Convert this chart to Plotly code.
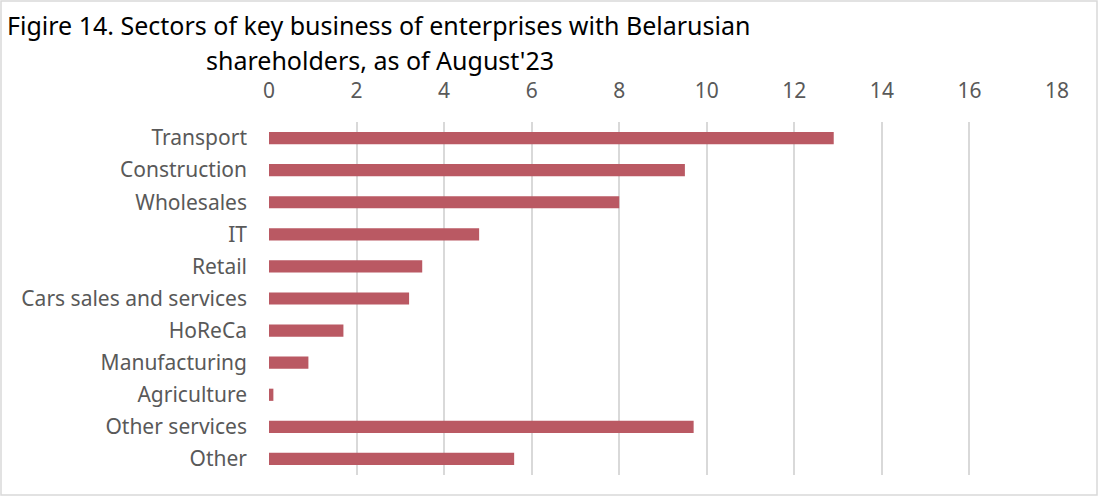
import plotly.graph_objects as go

categories = ["Transport", "Construction", "Wholesales", "IT", "Retail",
              "Cars sales and services", "HoReCa", "Manufacturing",
              "Agriculture", "Other services", "Other"]
values = [12.9, 9.5, 8.0, 4.8, 3.5, 3.2, 1.7, 0.9, 0.1, 9.7, 5.6]
tick_vals = [0, 2, 4, 6, 8, 10, 12, 14, 16, 18]
title_lines = ["Figire 14. Sectors of key business of enterprises with Belarusian",
               "shareholders, as of August'23"]

FONT = "Noto Sans"
GRAY = "#595959"
W, H = 1099, 497
ML, MR, MT, MB = 269, 42, 122, 22

fig = go.Figure(go.Bar(
    x=values, y=categories, orientation="h",
    marker=dict(color="#BA5963", line=dict(width=0)),
    hoverinfo="x+y",
))

def py(px_from_top):
    return 1 - (px_from_top - MT) / (H - MT - MB)

def px_x(px):
    return (px - ML) / (W - ML - MR)

fig.update_layout(
    width=W, height=H,
    margin=dict(l=ML, r=MR, t=MT, b=MB, autoexpand=False),
    paper_bgcolor="white", plot_bgcolor="white",
    bargap=0.62,
    showlegend=False,
    font=dict(family=FONT, size=21, color=GRAY),
    xaxis=dict(
        side="top", range=[0, 18], tickvals=tick_vals,
        showgrid=True, gridcolor="#d9d9d9", gridwidth=1.5,
        zeroline=False, showline=False, ticks="",
        ticklabelstandoff=19, automargin=False,
        tickfont=dict(family=FONT, size=21, color=GRAY),
        fixedrange=True,
    ),
    yaxis=dict(
        categoryorder="array", categoryarray=categories[::-1],
        showgrid=False, zeroline=False, showline=False, ticks="",
        ticklabelstandoff=21, automargin=False,
        tickfont=dict(family=FONT, size=21, color=GRAY),
        fixedrange=True,
    ),
    annotations=[
        dict(text=title_lines[0], xref="paper", yref="paper",
             x=px_x(378), y=py(25), xanchor="center", yanchor="middle",
             showarrow=False, font=dict(family=FONT, size=25, color="black")),
        dict(text=title_lines[1], xref="paper", yref="paper",
             x=px_x(380), y=py(60), xanchor="center", yanchor="middle",
             showarrow=False, font=dict(family=FONT, size=25, color="black")),
    ],
    shapes=[
        dict(type="rect", xref="paper", yref="paper",
             x0=px_x(1), x1=px_x(1097), y0=py(495), y1=py(1),
             line=dict(color="#d9d9d9", width=1.5), fillcolor="rgba(0,0,0,0)",
             layer="below"),
    ],
)

fig.write_html("out.html", config={"displayModeBar": False},
               post_script="document.body.style.margin='0';")
